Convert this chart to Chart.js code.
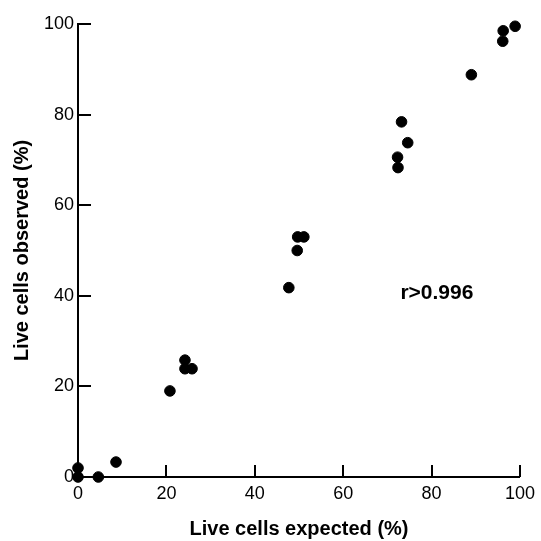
<!DOCTYPE html>
<html>
<head>
<meta charset="utf-8">
<script src="https://cdn.jsdelivr.net/npm/chart.js@4"></script>
<style>
  html, body { margin: 0; padding: 0; background: #fff; }
  #wrap { width: 541px; height: 541px; }
</style>
</head>
<body>
<div id="wrap"><canvas id="c" width="541" height="541"></canvas></div>
<script>
// Data
const expectedPct = [0, 0, 4.6, 8.6, 20.8, 24.2, 24.2, 25.8, 47.7, 49.6, 49.7, 51.1, 72.4, 72.3, 74.6, 73.2, 89.0, 96.1, 96.2, 98.9];
const observedPct = [0, 2.0, 0, 3.3, 19.0, 25.8, 23.9, 23.9, 41.8, 50.0, 53.0, 53.0, 68.3, 70.6, 73.8, 78.4, 88.8, 96.2, 98.5, 99.5];
const xTickValues = [0, 20, 40, 60, 80, 100];
const yTickValues = [0, 20, 40, 60, 80, 100];
const xTitle = 'Live cells expected (%)';
const yTitle = 'Live cells observed (%)';
const annotationText = 'r>0.996';

const points = expectedPct.map((x, i) => ({ x: x, y: observedPct[i] }));

const inwardTicks = {
  id: 'inwardTicks',
  afterDraw(chart) {
    const ctx = chart.ctx;
    const xs = chart.scales.x, ys = chart.scales.y;
    const area = chart.chartArea;
    ctx.save();
    ctx.strokeStyle = '#000';
    ctx.lineWidth = 2;
    ctx.lineCap = 'butt';
    xTickValues.forEach(v => {
      const px = Math.round(xs.getPixelForValue(v));
      ctx.beginPath();
      ctx.moveTo(px, area.bottom);
      ctx.lineTo(px, area.bottom - 12);
      ctx.stroke();
    });
    yTickValues.forEach(v => {
      const py = Math.round(ys.getPixelForValue(v));
      ctx.beginPath();
      ctx.moveTo(area.left, py);
      ctx.lineTo(area.left + 13, py);
      ctx.stroke();
    });
    // annotation
    ctx.fillStyle = '#000';
    ctx.font = 'bold 21px "Liberation Sans", Arial, sans-serif';
    ctx.textAlign = 'center';
    ctx.textBaseline = 'middle';
    ctx.fillText(annotationText, xs.getPixelForValue(81.2), ys.getPixelForValue(40.5));
    ctx.restore();
  }
};

new Chart(document.getElementById('c'), {
  type: 'scatter',
  data: {
    datasets: [{
      data: points,
      backgroundColor: '#000',
      borderColor: '#000',
      pointRadius: 5.3,
      pointHoverRadius: 5.3,
      clip: false
    }]
  },
  options: {
    responsive: false,
    animation: false,
    events: [],
    layout: { padding: { top: 24, right: 18, left: 0, bottom: 0 } },
    plugins: { legend: { display: false }, tooltip: { enabled: false } },
    scales: {
      x: {
        type: 'linear',
        min: 0, max: 100,
        afterFit(scale) { scale.height = 64; },
        afterBuildTicks(scale) { scale.ticks = xTickValues.map(v => ({ value: v })); },
        grid: { display: false, drawTicks: false },
        border: { display: true, color: '#000', width: 2 },
        ticks: {
          color: '#000',
          padding: 6,
          font: { family: '"Liberation Sans", Arial, sans-serif', size: 18 }
        },
        title: {
          display: true,
          text: xTitle,
          color: '#000',
          font: { family: '"Liberation Sans", Arial, sans-serif', size: 20, weight: 'bold' },
          padding: { top: 0, bottom: 0 }
        }
      },
      y: {
        type: 'linear',
        min: 0, max: 100,
        afterFit(scale) { scale.width = 78; },
        afterBuildTicks(scale) { scale.ticks = yTickValues.map(v => ({ value: v })); },
        grid: { display: false, drawTicks: false },
        border: { display: true, color: '#000', width: 2 },
        ticks: {
          color: '#000',
          padding: 4,
          font: { family: '"Liberation Sans", Arial, sans-serif', size: 18 }
        },
        title: {
          display: true,
          text: yTitle,
          color: '#000',
          font: { family: '"Liberation Sans", Arial, sans-serif', size: 20, weight: 'bold' },
          padding: { top: 10, bottom: 0 }
        }
      }
    }
  },
  plugins: [inwardTicks]
});
</script>
</body>
</html>
